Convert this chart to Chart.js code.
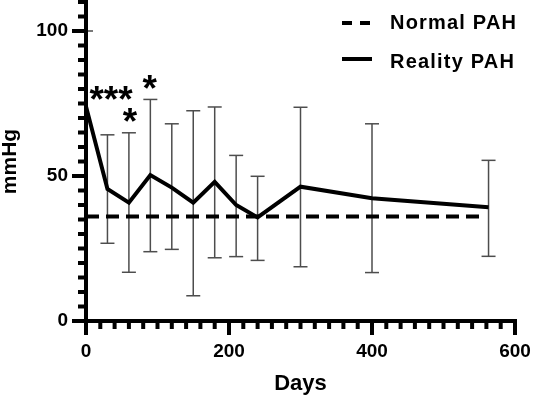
<!DOCTYPE html>
<html><head><meta charset="utf-8">
<script src="https://cdn.jsdelivr.net/npm/chart.js@4.4.1/dist/chart.umd.min.js"></script>
<style>html,body{margin:0;padding:0;background:#fff;}</style>
</head><body>
<canvas id="c" width="533" height="398"></canvas>
<script>
const days = [0, 30, 60, 90, 120, 150, 180, 210, 240, 300, 400, 563];
const realityMean = [74, 45.5, 40.8, 50.3, 46, 40.8, 48, 40, 35.7, 46.3, 42.3, 39.2];
const errorUpper = [100, 64.2, 64.9, 76.4, 68, 72.5, 73.8, 57.1, 49.9, 73.7, 68, 55.4];
const errorLower = [74, 26.8, 16.8, 23.9, 24.7, 8.7, 21.8, 22.2, 20.9, 18.7, 16.7, 22.3];
const normalDays = [0, 555];
const normalValues = [36, 36];
const seriesNames = ['Normal PAH', 'Reality PAH'];
const xTickValues = [0, 200, 400, 600];
const yTickValues = [0, 50, 100];
const sigLabels = ['***', '*', '*'];
const sigDays = [35, 61.6, 89];
const sigValues = [78.5, 71, 82.5];

const FONT = "'Liberation Sans', Arial, sans-serif";
Chart.defaults.font.family = FONT;
Chart.defaults.color = '#000';

function zeroPad(s) { s.paddingLeft = 0; s.paddingRight = 0; s.paddingTop = 0; s.paddingBottom = 0; }

const decor = {
  id: 'decor',
  beforeDatasetsDraw(chart) {
    const {ctx, scales: {x, y}, chartArea} = chart;
    ctx.save();
    ctx.beginPath();
    ctx.rect(chartArea.left + 2, 0, chart.width, chart.height);
    ctx.clip();
    ctx.strokeStyle = '#4d4d4d';
    ctx.lineWidth = 1.5;
    days.forEach((d, i) => {
      const px = x.getPixelForValue(d);
      const yt = y.getPixelForValue(errorUpper[i]);
      const yb = y.getPixelForValue(errorLower[i]);
      ctx.beginPath(); ctx.moveTo(px, yt); ctx.lineTo(px, yb); ctx.stroke();
      [[errorUpper[i], yt], [errorLower[i], yb]].forEach(([v, py]) => {
        if (v === realityMean[i]) return;
        ctx.beginPath(); ctx.moveTo(px - 7, py); ctx.lineTo(px + 7, py); ctx.stroke();
      });
    });
    ctx.restore();
  },
  afterDraw(chart) {
    const {ctx, scales: {x, y}, chartArea} = chart;
    const L = chartArea.left, B = chartArea.bottom;
    ctx.save();
    ctx.fillStyle = '#000';
    ctx.fillRect(L - 2, chartArea.top - 2, 4, B - chartArea.top + 4);
    ctx.fillRect(L - 2, B - 2, chartArea.right - L + 4, 4);
    for (let v = 0; v <= 110; v += 5) {
      const py = y.getPixelForValue(v);
      const len = (v % 50 === 0) ? 12 : 6;
      ctx.fillRect(L - 2 - len, py - 2, len, 4);
    }
    for (let v = 0; v <= 600; v += 20) {
      const px = x.getPixelForValue(v);
      const len = (v % 200 === 0) ? 12 : 6;
      ctx.fillRect(px - 2, B + 2, 4, len);
    }
    ctx.strokeStyle = '#000';
    ctx.lineWidth = 4;
    ctx.setLineDash([10, 8]);
    ctx.beginPath(); ctx.moveTo(342, 23); ctx.lineTo(370, 23); ctx.stroke();
    ctx.setLineDash([]);
    ctx.beginPath(); ctx.moveTo(342, 59); ctx.lineTo(372, 59); ctx.stroke();
    ctx.font = 'bold 20px ' + FONT;
    try { ctx.letterSpacing = '1.2px'; } catch (e) {}
    ctx.textAlign = 'left';
    ctx.textBaseline = 'alphabetic';
    ctx.fillText(seriesNames[0], 390, 21.7 + 0.358 * 20);
    ctx.fillText(seriesNames[1], 390, 60.8 + 0.358 * 20);
    try { ctx.letterSpacing = '0px'; } catch (e) {}
    ctx.font = 'bold 37px ' + FONT;
    ctx.textAlign = 'center';
    sigLabels.forEach((t, i) => {
      const m = ctx.measureText(t);
      const cx = x.getPixelForValue(sigDays[i]);
      const cy = y.getPixelForValue(sigValues[i]);
      ctx.fillText(t, cx, cy + (m.actualBoundingBoxAscent - m.actualBoundingBoxDescent) / 2);
    });
    ctx.restore();
  }
};

new Chart(document.getElementById('c'), {
  type: 'line',
  data: {
    datasets: [
      {
        label: seriesNames[0],
        data: normalDays.map((d, i) => ({x: d, y: normalValues[i]})),
        borderColor: '#000', borderWidth: 4, borderDash: [13, 7],
        pointRadius: 0, fill: false, tension: 0
      },
      {
        label: seriesNames[1],
        data: days.map((d, i) => ({x: d, y: realityMean[i]})),
        borderColor: '#000', borderWidth: 4, borderJoinStyle: 'miter',
        pointRadius: 0, fill: false, tension: 0
      }
    ]
  },
  options: {
    responsive: false,
    devicePixelRatio: 1,
    animation: false,
    layout: {padding: {left: 0, right: 18, top: 2, bottom: 0}},
    plugins: {legend: {display: false}, tooltip: {enabled: false}},
    scales: {
      x: {
        type: 'linear', min: 0, max: 600,
        afterBuildTicks: s => { s.ticks = xTickValues.map(v => ({value: v})); },
        afterFit: s => { s.height = 77; zeroPad(s); },
        grid: {display: false, drawTicks: false},
        border: {display: false},
        ticks: {font: {size: 19, weight: 'bold'}, padding: 19, color: '#000'},
        title: {display: true, text: 'Days', font: {size: 22, weight: 'bold'}, padding: {top: 0, bottom: 1}, color: '#000'}
      },
      y: {
        min: 0, max: 110,
        afterBuildTicks: s => { s.ticks = yTickValues.map(v => ({value: v})); },
        afterFit: s => { s.width = 86; zeroPad(s); },
        grid: {display: false, drawTicks: false},
        border: {display: false},
        ticks: {font: {size: 19, weight: 'bold'}, padding: 18, color: '#000'},
        title: {display: true, text: 'mmHg', font: {size: 21, weight: 'bold', lineHeight: 1}, padding: 0, color: '#000'}
      }
    }
  },
  plugins: [decor]
});
</script>
</body></html>
